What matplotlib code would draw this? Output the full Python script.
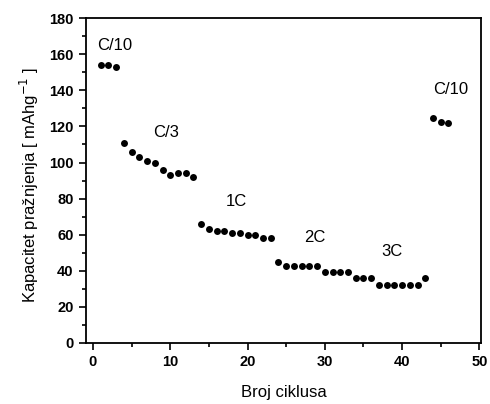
import matplotlib.pyplot as plt
from matplotlib.ticker import MultipleLocator

plt.rcParams['font.family'] = ['Liberation Sans', 'DejaVu Sans']

# discharge capacity per cycle
cycles = list(range(1, 47))
capacity = [154, 154, 153,
            111, 106, 103, 101, 99.5, 96, 93, 94, 94, 92,
            66, 63, 62, 62, 61, 61, 60, 60, 58, 58,
            45, 42.5, 42.5, 42.5, 42.5, 42.5, 39.5, 39.5, 39.5, 39.5,
            36, 36, 36,
            32, 32, 32, 32, 32, 32, 36,
            124.5, 122.5, 122]

rate_labels = ["C/10", "C/3", "1C", "2C", "3C", "C/10"]
label_x = [2.8, 9.4, 18.5, 28.7, 38.7, 46.3]
label_y = [165, 116.5, 78.5, 58.5, 50.5, 140.5]

fig = plt.figure(figsize=(4.9, 4.04), dpi=100)
ax = fig.add_axes([0.1755, 0.151, 0.806, 0.804])

ax.plot(cycles, capacity, 'o', color='black', markersize=5, markeredgewidth=0)

for t, x, y in zip(rate_labels, label_x, label_y):
    ax.text(x, y, t, ha='center', va='center', fontsize=12)

ax.set_xlim(-0.9, 50.2)
ax.set_ylim(0, 180)
ax.xaxis.set_major_locator(MultipleLocator(10))
ax.xaxis.set_minor_locator(MultipleLocator(5))
ax.yaxis.set_major_locator(MultipleLocator(20))
ax.yaxis.set_minor_locator(MultipleLocator(10))
ax.tick_params(which='both', direction='out', top=False, right=False, width=1.2)
ax.tick_params(which='major', length=5, labelsize=10.5, pad=4)
ax.tick_params(which='minor', length=3)
for lab in ax.get_xticklabels() + ax.get_yticklabels():
    lab.set_fontweight('bold')
for s in ax.spines.values():
    s.set_linewidth(1.3)

ax.set_xlabel("Broj ciklusa", fontsize=12, labelpad=11)
ax.set_ylabel("Kapacitet pražnjenja [ mAhg$^{-1}$ ]", fontsize=12, labelpad=6)
ax.yaxis.set_label_coords(-0.115, 0.485)

fig.savefig("out.png", dpi=100)
